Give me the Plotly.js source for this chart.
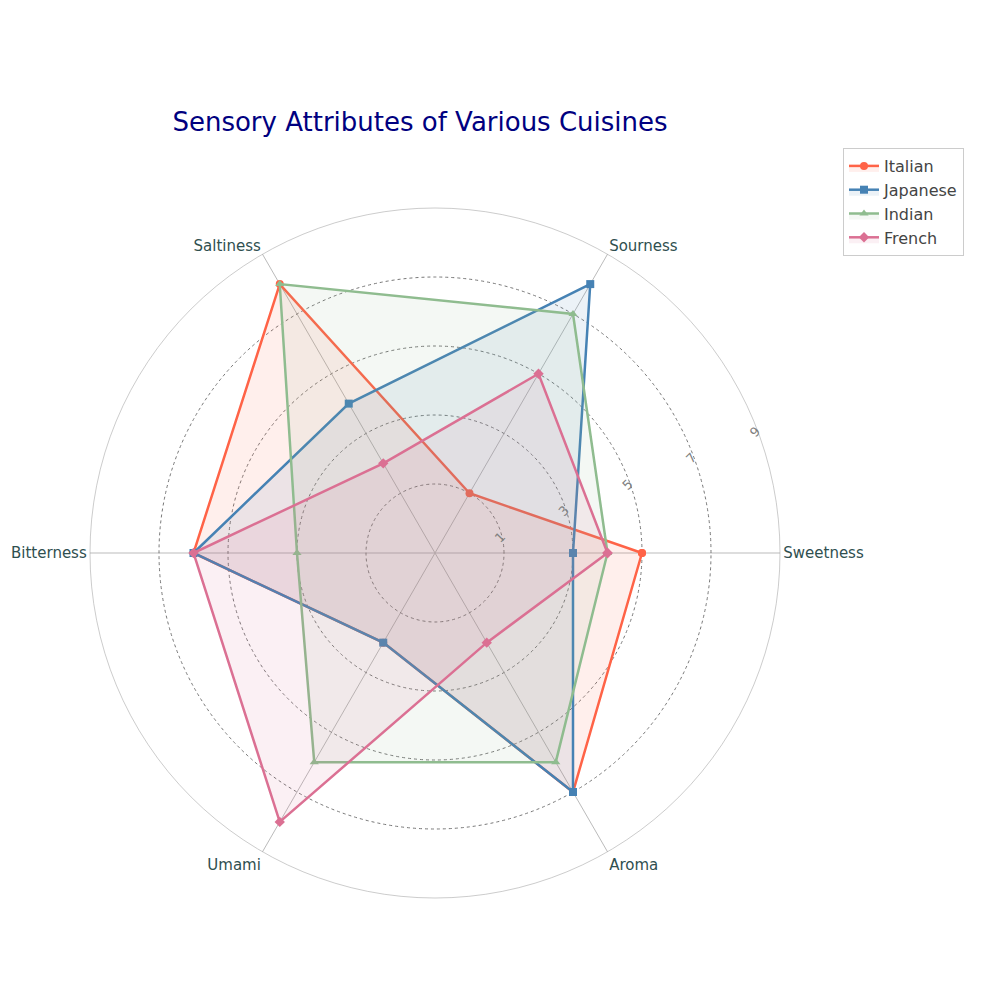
<!DOCTYPE html>
<html>
<head>
<script src="https://cdn.plot.ly/plotly-3.0.1.min.js"></script>
</head>
<body style="margin:0">
<div id="chart" style="width:1000px;height:1000px"></div>
<script>
const categories = ['Sweetness', 'Sourness', 'Saltiness', 'Bitterness', 'Umami', 'Aroma'];
const italian = [5, 1, 8, 6, 2, 7];
const japanese = [3, 8, 4, 6, 2, 7];
const indian = [4, 7, 8, 3, 6, 6];
const french = [4, 5, 2, 6, 8, 2];

const series = [
    { name: 'Italian', values: italian, color: '#FF6347', fill: 'rgba(255,99,71,0.1)', symbol: 'circle' },
    { name: 'Japanese', values: japanese, color: '#4682B4', fill: 'rgba(70,130,180,0.1)', symbol: 'square' },
    { name: 'Indian', values: indian, color: '#8FBC8F', fill: 'rgba(143,188,143,0.1)', symbol: 'triangle-up' },
    { name: 'French', values: french, color: '#DB7093', fill: 'rgba(219,112,147,0.1)', symbol: 'diamond' }
];

const traces = series.map(s => ({
    type: 'scatterpolar',
    r: s.values.concat([s.values[0]]),
    theta: categories.concat([categories[0]]),
    name: s.name,
    mode: 'lines+markers',
    fill: 'toself',
    fillcolor: s.fill,
    line: { color: s.color, width: 2.5 },
    marker: { color: s.color, symbol: s.symbol, size: 8 }
}));

const layout = {
    width: 1000,
    height: 1000,
    margin: { l: 0, r: 0, t: 0, b: 0 },
    paper_bgcolor: 'white',
    font: { family: 'DejaVu Sans' },
    title: {
        text: 'Sensory Attributes of Various Cuisines',
        x: 0.42, xanchor: 'center', y: 0.878, yanchor: 'middle',
        font: { size: 26, color: 'navy' }
    },
    polar: {
        domain: { x: [0.09, 0.78], y: [0.102, 0.792] },
        bgcolor: 'white',
        radialaxis: {
            range: [-1, 9],
            tickvals: [1, 3, 5, 7, 9],
            angle: 22.5,
            tickangle: -22.5,
            showline: false,
            ticks: '',
            tickfont: { size: 13, color: 'gray' },
            gridcolor: '#777',
            griddash: 'dot',
            gridwidth: 0.7
        },
        angularaxis: {
            rotation: 0,
            direction: 'counterclockwise',
            tickfont: { size: 15, color: '#2F4F4F' },
            gridcolor: '#bbb',
            linecolor: '#999',
            linewidth: 0.5,
            ticks: ''
        }
    },
    legend: {
        x: 0.964, xanchor: 'right', y: 0.852, yanchor: 'top',
        bordercolor: '#ccc', borderwidth: 1,
        font: { size: 16 }
    }
};

Plotly.newPlot('chart', traces, layout, { displayModeBar: false });
</script>
</body>
</html>
